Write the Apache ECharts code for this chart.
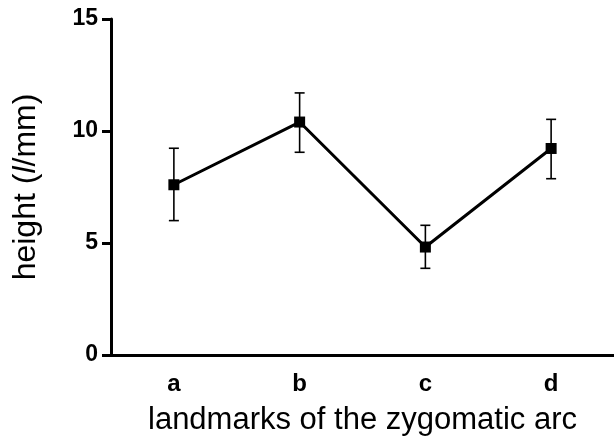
<!DOCTYPE html>
<html>
<head>
<meta charset="utf-8">
<script src="https://cdn.jsdelivr.net/npm/echarts@6/dist/echarts.min.js"></script>
<style>
html,body{margin:0;padding:0;background:#fff;}
#c{width:614px;height:444px;}
</style>
</head>
<body>
<div id="c"></div>
<script>
var categories = ['a', 'b', 'c', 'd'];
var means = [7.6, 10.4, 4.82, 9.22];
var lower = [6.0, 9.05, 3.87, 7.87];
var upper = [9.23, 11.7, 5.79, 10.52];
var yTicks = [0, 5, 10, 15];

var FONT = '"Liberation Sans", Arial, Helvetica, sans-serif';
var chart = echarts.init(document.getElementById('c'), null, {renderer: 'canvas'});

var errData = categories.map(function (c, i) { return [i, lower[i], upper[i]]; });

chart.setOption({
  animation: false,
  backgroundColor: '#fff',
  grid: {left: 111, right: 0, top: 19, bottom: 89},
  xAxis: {
    type: 'category',
    data: categories,
    boundaryGap: true,
    axisLine: {lineStyle: {color: '#000', width: 3}},
    axisTick: {alignWithLabel: true, length: 8, lineStyle: {color: '#000', width: 3}},
    axisLabel: {color: '#000', fontSize: 24, fontWeight: 'bold', fontFamily: FONT, margin: 17},
    name: 'landmarks of the zygomatic arc',
    nameLocation: 'middle',
    nameGap: 50,
    nameTextStyle: {color: '#000', fontSize: 31, fontFamily: FONT}
  },
  yAxis: {
    type: 'value',
    min: yTicks[0],
    max: yTicks[yTicks.length - 1],
    interval: 5,
    splitLine: {show: false},
    axisLine: {show: true, lineStyle: {color: '#000', width: 3}},
    axisTick: {show: true, length: 9, lineStyle: {color: '#000', width: 3}},
    axisLabel: {color: '#000', fontSize: 23, fontWeight: 'bold', fontFamily: FONT, margin: 13},
    name: '{n|height (}{i|l}{n|/mm)}',
    nameLocation: 'middle',
    nameGap: 69,
    nameRotate: 90,
    nameTextStyle: {
      color: '#000', fontSize: 32, fontFamily: FONT,
      rich: {
        n: {color: '#000', fontSize: 32, fontFamily: FONT},
        i: {color: '#000', fontSize: 32, fontFamily: FONT, fontStyle: 'italic'}
      }
    }
  },
  series: [
    {
      type: 'custom',
      data: errData,
      z: 2,
      renderItem: function (params, api) {
        var x = api.value(0);
        var lo = api.coord([x, api.value(1)]);
        var hi = api.coord([x, api.value(2)]);
        var hw = 5;
        var st = {stroke: '#000', lineWidth: 1.6};
        return {
          type: 'group',
          children: [
            {type: 'line', shape: {x1: lo[0], y1: lo[1], x2: hi[0], y2: hi[1]}, style: st},
            {type: 'line', shape: {x1: lo[0] - hw, y1: lo[1], x2: lo[0] + hw, y2: lo[1]}, style: st},
            {type: 'line', shape: {x1: hi[0] - hw, y1: hi[1], x2: hi[0] + hw, y2: hi[1]}, style: st}
          ]
        };
      }
    },
    {
      type: 'line',
      data: means,
      z: 3,
      symbol: 'rect',
      symbolSize: 11,
      itemStyle: {color: '#000'},
      lineStyle: {color: '#000', width: 3}
    }
  ]
});
</script>
</body>
</html>
